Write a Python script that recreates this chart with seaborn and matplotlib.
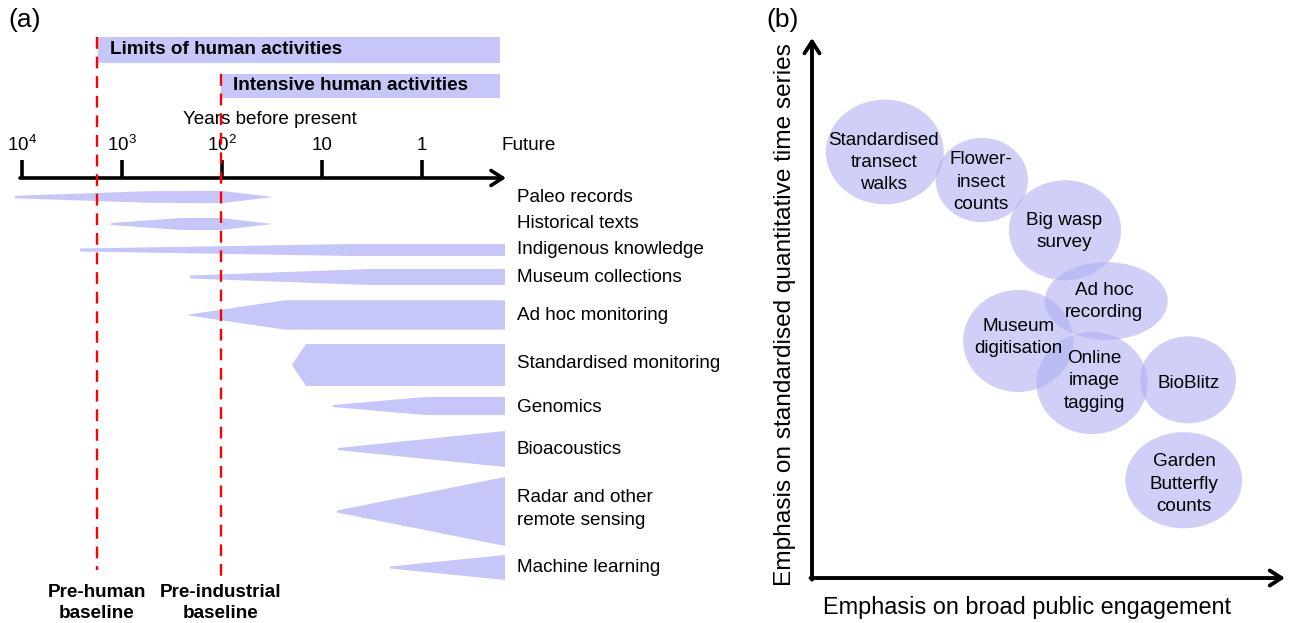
import numpy as np
import matplotlib
matplotlib.use("Agg")
import matplotlib.pyplot as plt
from matplotlib.patches import Ellipse, Polygon, Rectangle
import seaborn as sns

# ---------------- Panel (a): timeline of data sources ----------------
# x position = 4 - log10(years before present)
tick_pos = [0, 1, 2, 3, 4]
tick_labels = [r'$\mathregular{10^4}$', r'$\mathregular{10^3}$', r'$\mathregular{10^2}$', '10', '1']
future_pos = 4.82

activity_names = ["Limits of human activities", "Intensive human activities"]
activity_start = [0.76, 1.99]
activity_end = [4.78, 4.78]
activity_row = [50, 86]
activity_half = [13, 12]

baseline_names = ["Pre-human\nbaseline", "Pre-industrial\nbaseline"]
baseline_pos = [0.75, 1.99]
baseline_top = [37, 74]
baseline_bottom = [570, 577]

methods = ["Paleo records", "Historical texts", "Indigenous knowledge",
           "Museum collections", "Ad hoc monitoring", "Standardised monitoring",
           "Genomics", "Bioacoustics", "Radar and other\nremote sensing",
           "Machine learning"]
method_row = [197, 224, 250, 277, 315, 365, 406, 449, 511.5, 567.5]
method_label_row = [197, 223, 249, 277, 315, 363, 407, 450, 509, 568]
# thickness profile of each source through time (position, half-thickness)
profile_pos = [
    [-0.07, 1.26, 1.99, 2.51],
    [0.89, 1.59, 1.99, 2.51],
    [0.58, 3.31, 4.83],
    [1.68, 3.48, 4.83],
    [1.67, 2.63, 4.83],
    [2.70, 2.84, 4.83],
    [3.11, 4.03, 4.83],
    [3.16, 4.83],
    [3.15, 4.83],
    [3.68, 4.83],
]
profile_half = [
    [1.2, 5.8, 6.2, 0.0],
    [1.0, 6.0, 6.0, 0.0],
    [1.5, 6.0, 6.0],
    [1.5, 8.0, 8.0],
    [0.5, 14.7, 14.7],
    [0.0, 21.0, 21.0],
    [1.0, 9.0, 9.0],
    [1.0, 18.0],
    [1.0, 34.5],
    [1.0, 12.5],
]

# ---------------- Panel (b): citizen-science approaches ----------------
approaches = ["Standardised\ntransect\nwalks", "Flower-\ninsect\ncounts",
              "Big wasp\nsurvey", "Ad hoc\nrecording", "Museum\ndigitisation",
              "Online\nimage\ntagging", "BioBlitz", "Garden\nButterfly\ncounts"]
engagement = [1.54, 3.59, 5.35, 6.22, 4.36, 5.92, 7.95, 7.86]
standardisation = [7.89, 7.37, 6.44, 5.13, 4.39, 3.61, 3.67, 1.81]
spread_x = [2.49, 1.95, 2.37, 2.60, 2.33, 2.35, 2.03, 2.47]
spread_y = [1.94, 1.56, 1.85, 1.44, 1.89, 1.89, 1.61, 1.78]
label_x = [1.52, 3.58, 5.33, 6.18, 4.37, 5.97, 7.96, 7.87]
label_y = [7.69, 7.33, 6.42, 5.12, 4.45, 3.65, 3.61, 1.74]

# ---------------- drawing ----------------
sns.set_theme(style="white")
plt.rcParams['font.family'] = ['Liberation Sans', 'DejaVu Sans']
plt.rcParams['mathtext.fontset'] = 'custom'
plt.rcParams['mathtext.rm'] = 'Liberation Sans'
plt.rcParams['text.color'] = 'black'

W, H = 1291, 623
fig = plt.figure(figsize=(W / 100, H / 100), dpi=100)

shape_col = '#c6c6f9'
FS = 13.6

# Panel (a)
axa = fig.add_axes([0, 0, 760 / W, 1])
axa.set_xlim(-0.22, 7.38)
axa.set_ylim(623, 0)
axa.axis('off')

for name, s, e, r, hh in zip(activity_names, activity_start, activity_end,
                             activity_row, activity_half):
    axa.add_patch(Rectangle((s, r - hh), e - s, 2 * hh, color=shape_col, lw=0, zorder=1))
    axa.text(s + 0.12, r, name, fontsize=FS, fontweight='bold', ha='left',
             va='center', zorder=3)

for name, x, t, b in zip(baseline_names, baseline_pos, baseline_top, baseline_bottom):
    axa.plot([x, x], [t, b], color='#ff0000', lw=1.7, ls=(0, (5, 3.3)), zorder=4)
    axa.text(x, 603, name, fontsize=FS, fontweight='bold', ha='center',
             va='center', linespacing=1.35)

axis_row = 178
axa.annotate('', xy=(future_pos + 0.02, axis_row), xytext=(-0.02, axis_row),
             arrowprops=dict(arrowstyle='->,head_length=0.7,head_width=0.45',
                             lw=2.6, color='black', shrinkA=0, shrinkB=0))
for p, lab in zip(tick_pos, tick_labels):
    axa.plot([p, p], [160, axis_row], color='black', lw=2.6, solid_capstyle='butt')
    axa.text(p, 145, lab, fontsize=FS, ha='center', va='center')
axa.text(future_pos + 0.25, 145, 'Future', fontsize=FS, ha='center', va='center')
axa.text(2.48, 119, 'Years before present', fontsize=FS, ha='center', va='center')

for name, r, lr, pp, hw in zip(methods, method_row, method_label_row,
                               profile_pos, profile_half):
    pp = np.array(pp)
    hw = np.array(hw)
    top = np.column_stack([pp, r - hw])
    bot = np.column_stack([pp[::-1], r + hw[::-1]])
    axa.add_patch(Polygon(np.vstack([top, bot]), closed=True, color=shape_col,
                          lw=0, zorder=1))
    axa.text(4.95, lr, name, fontsize=FS, ha='left', va='center', linespacing=1.5)

fig.text(8 / W, 1 - 20 / H, '(a)', fontsize=19, ha='left', va='center')

# Panel (b)
axb = fig.add_axes([760 / W, 0, 1 - 760 / W, 1])
axb.set_xlim(-1.099, 10.127)
axb.set_ylim(-0.833, 10.704)
axb.axis('off')

for name, x, y, w, h, lx, ly in zip(approaches, engagement, standardisation,
                                    spread_x, spread_y, label_x, label_y):
    axb.add_patch(Ellipse((x, y), w, h, facecolor='#b0b0f4', alpha=0.6, lw=0,
                          zorder=1))
    axb.text(lx, ly, name, fontsize=FS, ha='center', va='center',
             multialignment='center', linespacing=1.4, zorder=3)

arrow_kw = dict(arrowstyle='->,head_length=0.7,head_width=0.45', lw=2.8,
                color='black', shrinkA=0, shrinkB=0)
axb.annotate('', xy=(0, 10.0), xytext=(0, -0.03), arrowprops=arrow_kw)
axb.annotate('', xy=(10.0, 0), xytext=(-0.03, 0), arrowprops=arrow_kw)
axb.text(-0.57, 4.87, 'Emphasis on standardised quantitative time series',
         fontsize=17.6, rotation=90, ha='center', va='center')
axb.text(4.55, -0.54, 'Emphasis on broad public engagement', fontsize=16.9,
         ha='center', va='center')

fig.text(766 / W, 1 - 20 / H, '(b)', fontsize=19, ha='left', va='center')

fig.savefig('out.png', dpi=100)
